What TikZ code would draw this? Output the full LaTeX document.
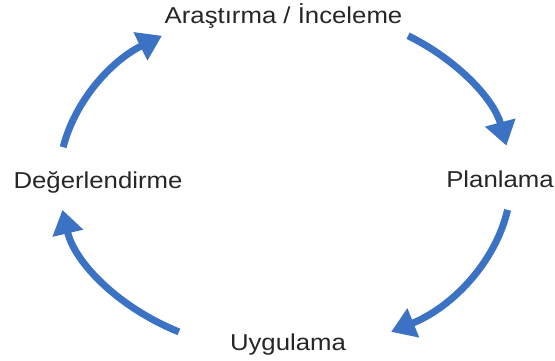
\documentclass[tikz,border=0pt]{standalone}
\usepackage{fontspec}
\setmainfont{Liberation Sans}[FakeStretch=1.12]
\usetikzlibrary{arrows.meta}
\definecolor{cycblue}{RGB}{59,114,196}
\begin{document}
\begin{tikzpicture}[x=1pt,y=1pt,
  lbl/.style={inner sep=0pt, anchor=base, text=black!85, font=\fontsize{23}{27}\selectfont},
  cyc/.style={draw=cycblue, line width=7pt, -{Triangle[length=24pt,width=30pt]}}]
\useasboundingbox (0,0) rectangle (555,360);
\coordinate (c) at (285,180);
% labels
\node[lbl] (ara) at (283.5,337) {Araştırma / İnceleme};
\node[lbl] (plan) at (500,173) {Planlama};
\node[lbl] (uyg) at (288,10) {Uygulama};
\node[lbl] (deg) at (98,172) {Değerlendirme};
% arc start points
\path (c) ++(57:226 and 172) coordinate (s1);
\path (c) ++(-10:226 and 172) coordinate (s2);
\path (c) ++(-118:226 and 172) coordinate (s3);
\path (c) ++(169:226 and 172) coordinate (s4);
% arrows
\draw[cyc] (s1) arc[start angle=57, end angle=11.5, x radius=226pt, y radius=172pt];
\draw[cyc] (s2) arc[start angle=-10, end angle=-62, x radius=226pt, y radius=172pt];
\draw[cyc] (s3) arc[start angle=-118, end angle=-170, x radius=226pt, y radius=172pt];
\draw[cyc] (s4) arc[start angle=169, end angle=123, x radius=226pt, y radius=172pt];
\end{tikzpicture}
\end{document}
